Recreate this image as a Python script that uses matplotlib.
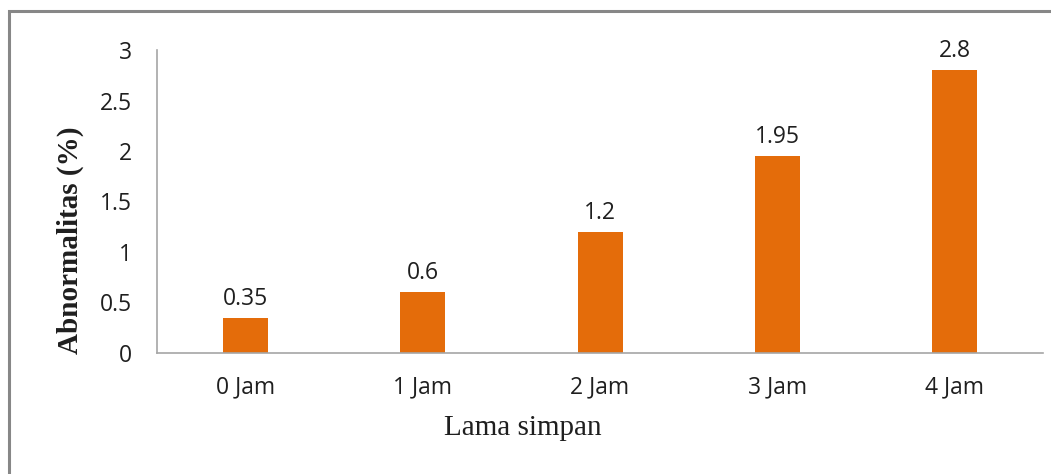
import matplotlib.pyplot as plt
from matplotlib.patches import Rectangle

categories = ['0 Jam', '1 Jam', '2 Jam', '3 Jam', '4 Jam']
values = [0.35, 0.6, 1.2, 1.95, 2.8]
value_labels = ['0.35', '0.6', '1.2', '1.95', '2.8']
y_ticks = [0, 0.5, 1, 1.5, 2, 2.5, 3]
y_tick_labels = ['0', '0.5', '1', '1.5', '2', '2.5', '3']

BAR_COLOR = '#E46C0A'
AXIS_COLOR = '#a6a6a6'
TEXT_COLOR = '#1f1f1f'
TICK_FONT = 'Open Sans'
LABEL_FONT = 'Liberation Serif'

fig = plt.figure(figsize=(10.51, 4.74), dpi=100)
ax = fig.add_axes([0.1494, 0.2553, 0.8430, 0.6392])

x = range(len(categories))
bars = ax.bar(x, values, width=0.254, color=BAR_COLOR)

for b, lab in zip(bars, value_labels):
    ax.annotate(lab, (b.get_x() + b.get_width() / 2, b.get_height()),
                xytext=(0, 5), textcoords='offset points',
                ha='center', va='bottom', fontsize=16.5, family=TICK_FONT,
                color=TEXT_COLOR)

ax.set_xlim(-0.5, len(categories) - 0.5)
ax.set_ylim(0, 3)
ax.set_yticks(y_ticks)
ax.set_yticklabels(y_tick_labels, family=TICK_FONT, fontsize=16.5, color=TEXT_COLOR)
ax.set_xticks(list(x))
ax.set_xticklabels(categories, family=TICK_FONT, fontsize=16.5, color=TEXT_COLOR)
ax.tick_params(axis='y', length=0, pad=18)
ax.tick_params(axis='x', length=0, pad=16)

for side in ('top', 'right'):
    ax.spines[side].set_visible(False)
for side in ('left', 'bottom'):
    ax.spines[side].set_color(AXIS_COLOR)
    ax.spines[side].set_linewidth(1.2)

fig.text(523 / 1051, 1 - 428 / 474, 'Lama simpan', ha='center', va='center',
         family=LABEL_FONT, fontsize=21, color=TEXT_COLOR)
fig.text(70 / 1051, 1 - 240 / 474, 'Abnormalitas (%)', ha='center', va='center',
         rotation=90, family=LABEL_FONT, fontsize=21, fontweight='bold',
         color=TEXT_COLOR)

# outer frame (cropped at right and bottom)
fig.patches.append(Rectangle((9 / 1051, -0.1), 1.2, 1 - 11 / 474 + 0.1,
                             transform=fig.transFigure, fill=False,
                             edgecolor='#878787', linewidth=2.2))

fig.savefig('out.png', dpi=100)
